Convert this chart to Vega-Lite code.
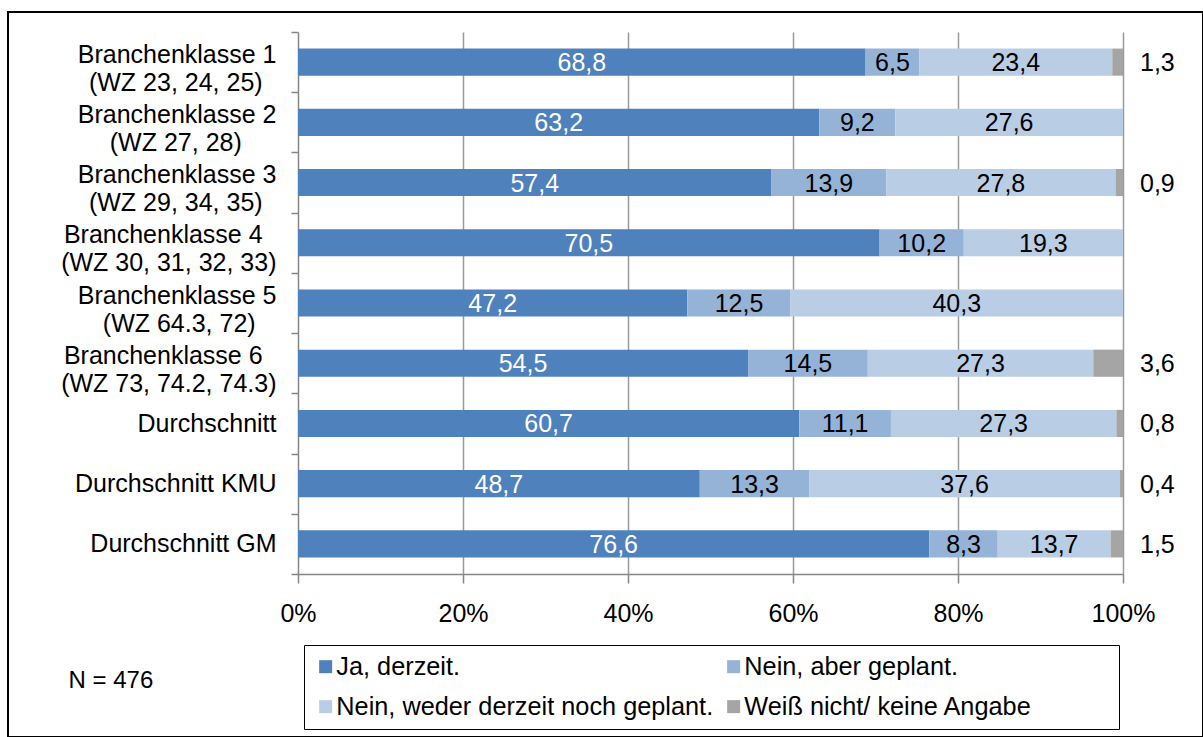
{
  "$schema": "https://vega.github.io/schema/vega-lite/v6.json",
  "width": 1195,
  "height": 725,
  "autosize": {"type": "none"},
  "padding": {"left": 8, "top": 12, "right": 0, "bottom": 0},
  "background": "white",
  "data": {
    "values": [
      {"k": "Branchenklasse 1|(WZ 23, 24, 25)", "a": "Ja, derzeit.", "v": 68.8, "o": 1},
      {"k": "Branchenklasse 1|(WZ 23, 24, 25)", "a": "Nein, aber geplant.", "v": 6.5, "o": 2},
      {"k": "Branchenklasse 1|(WZ 23, 24, 25)", "a": "Nein, weder derzeit noch geplant.", "v": 23.4, "o": 3},
      {"k": "Branchenklasse 1|(WZ 23, 24, 25)", "a": "Weiß nicht/ keine Angabe", "v": 1.3, "o": 4},
      {"k": "Branchenklasse 2|(WZ 27, 28)", "a": "Ja, derzeit.", "v": 63.2, "o": 1},
      {"k": "Branchenklasse 2|(WZ 27, 28)", "a": "Nein, aber geplant.", "v": 9.2, "o": 2},
      {"k": "Branchenklasse 2|(WZ 27, 28)", "a": "Nein, weder derzeit noch geplant.", "v": 27.6, "o": 3},
      {"k": "Branchenklasse 3|(WZ 29, 34, 35)", "a": "Ja, derzeit.", "v": 57.4, "o": 1},
      {"k": "Branchenklasse 3|(WZ 29, 34, 35)", "a": "Nein, aber geplant.", "v": 13.9, "o": 2},
      {"k": "Branchenklasse 3|(WZ 29, 34, 35)", "a": "Nein, weder derzeit noch geplant.", "v": 27.8, "o": 3},
      {"k": "Branchenklasse 3|(WZ 29, 34, 35)", "a": "Weiß nicht/ keine Angabe", "v": 0.9, "o": 4},
      {"k": "Branchenklasse 4|(WZ 30, 31, 32, 33)", "a": "Ja, derzeit.", "v": 70.5, "o": 1},
      {"k": "Branchenklasse 4|(WZ 30, 31, 32, 33)", "a": "Nein, aber geplant.", "v": 10.2, "o": 2},
      {"k": "Branchenklasse 4|(WZ 30, 31, 32, 33)", "a": "Nein, weder derzeit noch geplant.", "v": 19.3, "o": 3},
      {"k": "Branchenklasse 5|(WZ 64.3, 72)", "a": "Ja, derzeit.", "v": 47.2, "o": 1},
      {"k": "Branchenklasse 5|(WZ 64.3, 72)", "a": "Nein, aber geplant.", "v": 12.5, "o": 2},
      {"k": "Branchenklasse 5|(WZ 64.3, 72)", "a": "Nein, weder derzeit noch geplant.", "v": 40.3, "o": 3},
      {"k": "Branchenklasse 6|(WZ 73, 74.2, 74.3)", "a": "Ja, derzeit.", "v": 54.5, "o": 1},
      {"k": "Branchenklasse 6|(WZ 73, 74.2, 74.3)", "a": "Nein, aber geplant.", "v": 14.5, "o": 2},
      {"k": "Branchenklasse 6|(WZ 73, 74.2, 74.3)", "a": "Nein, weder derzeit noch geplant.", "v": 27.3, "o": 3},
      {"k": "Branchenklasse 6|(WZ 73, 74.2, 74.3)", "a": "Weiß nicht/ keine Angabe", "v": 3.6, "o": 4},
      {"k": "Durchschnitt", "a": "Ja, derzeit.", "v": 60.7, "o": 1},
      {"k": "Durchschnitt", "a": "Nein, aber geplant.", "v": 11.1, "o": 2},
      {"k": "Durchschnitt", "a": "Nein, weder derzeit noch geplant.", "v": 27.3, "o": 3},
      {"k": "Durchschnitt", "a": "Weiß nicht/ keine Angabe", "v": 0.8, "o": 4},
      {"k": "Durchschnitt KMU", "a": "Ja, derzeit.", "v": 48.7, "o": 1},
      {"k": "Durchschnitt KMU", "a": "Nein, aber geplant.", "v": 13.3, "o": 2},
      {"k": "Durchschnitt KMU", "a": "Nein, weder derzeit noch geplant.", "v": 37.6, "o": 3},
      {"k": "Durchschnitt KMU", "a": "Weiß nicht/ keine Angabe", "v": 0.4, "o": 4},
      {"k": "Durchschnitt GM", "a": "Ja, derzeit.", "v": 76.6, "o": 1},
      {"k": "Durchschnitt GM", "a": "Nein, aber geplant.", "v": 8.3, "o": 2},
      {"k": "Durchschnitt GM", "a": "Nein, weder derzeit noch geplant.", "v": 13.7, "o": 3},
      {"k": "Durchschnitt GM", "a": "Weiß nicht/ keine Angabe", "v": 1.5, "o": 4}
    ]
  },
  "config": {
    "view": {"stroke": "black", "strokeWidth": 2},
    "font": "Liberation Sans",
    "locale": {"number": {"decimal": ",", "thousands": ".", "grouping": [3], "currency": ["", " €"]}},
    "axis": {"labelFont": "Liberation Sans", "labelFontSize": 25, "labelColor": "black", "domainColor": "#868686", "tickColor": "#868686", "gridColor": "#9a9a9a", "domainWidth": 1.5, "tickWidth": 1.5, "gridWidth": 1.5}
  },
  "resolve": {"axis": {"x": "independent"}},
  "encoding": {
    "y": {
      "field": "k",
      "type": "nominal",
      "sort": null,
      "scale": {
        "domain": ["Branchenklasse 1|(WZ 23, 24, 25)", "Branchenklasse 2|(WZ 27, 28)", "Branchenklasse 3|(WZ 29, 34, 35)", "Branchenklasse 4|(WZ 30, 31, 32, 33)", "Branchenklasse 5|(WZ 64.3, 72)", "Branchenklasse 6|(WZ 73, 74.2, 74.3)", "Durchschnitt", "Durchschnitt KMU", "Durchschnitt GM"],
        "range": [20, 562],
        "paddingInner": 0,
        "paddingOuter": 0
      },
      "axis": {
        "title": null,
        "offset": -290,
        "grid": false,
        "tickBand": "extent",
        "tickSize": 7,
        "labelLimit": 400,
        "labelLineHeight": 28.2,
        "labelAlign": "right",
        "labelPadding": 15,
        "labelBaseline": {"condition": {"test": "isString(datum.value) && indexof(datum.value, '|') >= 0", "value": "alphabetic"}, "value": "middle"},
        "labelExpr": "isString(datum.value) ? split(replace(replace(replace(replace(replace(replace(datum.value, ', 25)', ', 25)\u00a0\u00a0\u200b'), '28)', '28)\u00a0\u00a0\u00a0\u00a0\u00a0\u200b'), '35)', '35)\u00a0\u00a0\u200b'), '72)', '72)\u00a0\u00a0\u00a0\u200b'), 'e 4|', 'e 4\u00a0\u00a0\u200b|'), 'e 6|', 'e 6\u00a0\u00a0\u200b|'), '|') : ''"
      }
    }
  },
  "layer": [
    {
      "mark": {"type": "bar", "height": {"band": 0.45}},
      "encoding": {
        "x": {
          "field": "v",
          "type": "quantitative",
          "stack": "normalize",
          "scale": {"range": [290, 1115], "domain": [0, 1], "nice": false, "zero": true},
          "axis": {
            "orient": "bottom",
            "offset": -163,
            "grid": false,
            "values": [0, 0.2, 0.4, 0.6, 0.8, 1],
            "format": ".0%",
            "labelFlush": false,
            "tickSize": 9,
            "labelPadding": 18,
            "title": "N = 476",
            "titleX": 60,
            "titleY": 106,
            "titleAlign": "left",
            "titleBaseline": "middle",
            "titleAngle": 0,
            "titleFont": "Liberation Sans",
            "titleFontSize": 24,
            "titleFontWeight": "normal",
            "titleColor": "black"
          }
        },
        "color": {
          "field": "a",
          "type": "nominal",
          "scale": {
            "domain": ["Ja, derzeit.", "Nein, aber geplant.", "Nein, weder derzeit noch geplant.", "Weiß nicht/ keine Angabe"],
            "range": ["#4F81BD", "#95B3D7", "#B9CDE5", "#A5A5A5"]
          },
          "legend": {
            "orient": "none",
            "legendX": 296,
            "legendY": 633,
            "title": null,
            "direction": "horizontal",
            "columns": 2,
            "gridAlign": "all",
            "symbolType": "square",
            "symbolSize": 169,
            "symbolStrokeWidth": 0,
            "labelFont": "Liberation Sans",
            "labelFontSize": 25.3,
            "labelColor": "black",
            "labelLimit": 1000,
            "labelOffset": -2,
            "labelExpr": "datum.label === 'Weiß nicht/ keine Angabe' ? datum.label + '\u00a0\u00a0\u00a0\u00a0\u00a0\u00a0\u00a0\u00a0\u00a0\u00a0\u00a0\u200b' : datum.label",
            "strokeColor": "black",
            "padding": 9,
            "rowPadding": 14,
            "columnPadding": 7
          }
        },
        "order": {"field": "o"}
      }
    },
    {
      "mark": {"type": "text", "baseline": "middle", "dy": 1, "fontSize": 25, "font": "Liberation Sans"},
      "encoding": {
        "x": {
          "field": "v",
          "type": "quantitative",
          "stack": "normalize",
          "bandPosition": 0.5,
          "axis": {"orient": "top", "grid": true, "labels": false, "ticks": false, "domain": false, "title": null, "values": [0.2, 0.4, 0.6, 0.8, 1], "offset": 0}
        },
        "detail": {"field": "a"},
        "order": {"field": "o"},
        "color": {"condition": {"test": "datum.a === 'Ja, derzeit.'", "value": "white"}, "value": "black"},
        "text": {"condition": {"test": "datum.a === 'Weiß nicht/ keine Angabe'", "value": ""}, "field": "v", "type": "quantitative", "format": ".1f"}
      }
    },
    {
      "transform": [{"filter": "datum.a === 'Weiß nicht/ keine Angabe'"}],
      "mark": {"type": "text", "align": "left", "baseline": "middle", "dx": 17, "dy": 1, "fontSize": 25, "font": "Liberation Sans", "color": "black"},
      "encoding": {
        "x": {"datum": 1, "type": "quantitative", "axis": null},
        "text": {"field": "v", "type": "quantitative", "format": ".1f"}
      }
    }
  ]
}
